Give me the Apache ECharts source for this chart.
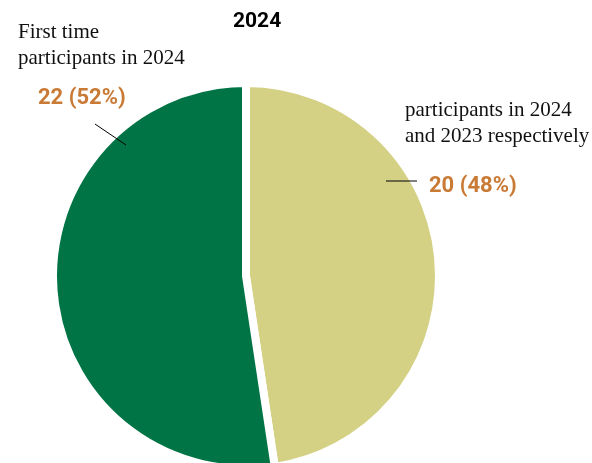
<!DOCTYPE html>
<html>
<head>
<meta charset="utf-8">
<script src="https://cdn.jsdelivr.net/npm/echarts@6/dist/echarts.min.js"></script>
<style>
  html, body { margin: 0; padding: 0; background: #fff; }
  #chart { width: 592px; height: 463px; }
</style>
</head>
<body>
<div id="chart"></div>
<script>
// Participant groups for 2024 (clockwise from 12 o'clock)
const categories = ['Repeat participants', 'First time participants'];
const values = [20, 22];
const sliceColors = ['#D4D084', '#007445'];
const titleText = '2024';

const chart = echarts.init(document.getElementById('chart'));

// Where each value label sits (pixel anchors for the callouts)
const labelSpots = [
  { x: 429, y: 186, align: 'left' },
  { x: 38, y: 98, align: 'left' }
];

const serif = '"Liberation Serif", "DejaVu Serif", serif';
const sans = 'Roboto, "Noto Sans", sans-serif';

chart.setOption({
  animation: false,
  title: {
    text: titleText,
    left: 228,
    top: 6,
    textStyle: { fontFamily: sans, fontWeight: 'bold', fontSize: 21, color: '#000' }
  },
  series: [{
    type: 'pie',
    center: [246, 276],
    radius: [0, 193],
    startAngle: 90,
    clockwise: true,
    avoidLabelOverlap: false,
    percentPrecision: 0,
    data: categories.map((name, i) => ({
      name, value: values[i], itemStyle: { color: sliceColors[i] }
    })),
    itemStyle: { borderColor: '#fff', borderWidth: 8 },
    label: {
      show: true,
      position: 'outside',
      formatter: p => p.value + ' (' + p.percent + '%)',
      fontFamily: sans,
      fontWeight: 'bold',
      fontSize: 22,
      color: '#C97A35'
    },
    labelLine: { show: false },
    labelLayout: params => {
      const s = labelSpots[params.dataIndex];
      return { x: s.x, y: s.y, align: s.align, verticalAlign: 'middle' };
    },
    emphasis: { disabled: true }
  }],
  graphic: [
    {
      type: 'text', left: 18, top: 19, z: 100,
      style: {
        text: 'First time\nparticipants in 2024',
        font: '21px ' + serif, fill: '#111', lineHeight: 26
      }
    },
    {
      type: 'text', left: 405, top: 97, z: 100,
      style: {
        text: 'participants in 2024\nand 2023 respectively',
        font: '21px ' + serif, fill: '#111', lineHeight: 26
      }
    },
    { type: 'line', z: 100, shape: { x1: 95, y1: 124, x2: 126, y2: 145 }, style: { stroke: '#000', lineWidth: 1 } },
    { type: 'line', z: 100, shape: { x1: 386, y1: 181, x2: 417, y2: 181 }, style: { stroke: '#000', lineWidth: 1 } }
  ]
});
</script>
</body>
</html>
